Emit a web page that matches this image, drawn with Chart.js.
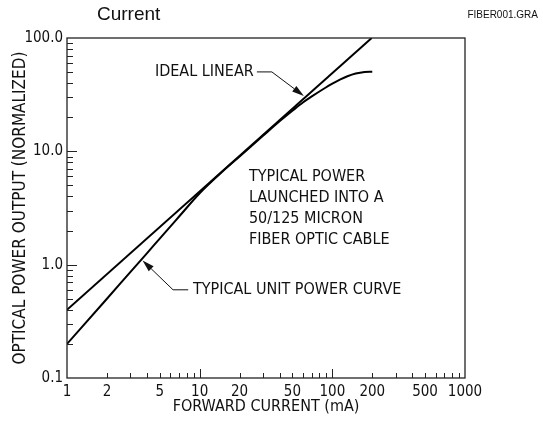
<!DOCTYPE html>
<html>
<head>
<meta charset="utf-8">
<script src="https://cdn.jsdelivr.net/npm/chart.js@4/dist/chart.umd.min.js"></script>
<style>
  html, body { margin: 0; padding: 0; background: #fff; }
  #wrap { width: 543px; height: 422px; position: relative; }
</style>
</head>
<body>
<div id="wrap"><canvas id="fiber"></canvas></div>
<script>
// forward current (mA) vs optical power (normalized)
const idealCurrent = [1, 198];
const idealPower = [0.4, 100];
const unitCurrent = [1, 2, 3, 4, 5, 7, 10, 15, 20, 30, 40, 50, 60, 70, 85, 100, 115, 130, 150, 175, 200];
const unitPower = [0.2, 0.5, 0.86, 1.26, 1.7, 2.66, 4.27, 6.7, 9.0, 13.7, 18.4, 22.8, 27.0, 30.5, 35.3, 39.6, 43.2, 46.0, 48.6, 50.2, 50.5];

const xTickLabels = [1, 2, 5, 10, 20, 50, 100, 200, 500, 1000];
const yTickLabels = [0.1, 1, 10, 100];
const yTickText = ["0.1", "1.0", "10.0", "100.0"];
const xMarks = [2, 3, 4, 5, 6, 7, 8, 9, 10, 20, 30, 40, 50, 60, 70, 80, 90, 100, 200, 300, 400, 500, 600, 700, 800, 900];
const yMarks = [0.2, 0.3, 0.4, 0.5, 0.6, 0.7, 0.8, 0.9, 1, 2, 3, 4, 5, 6, 7, 8, 9, 10, 20, 30, 40, 50, 60, 70, 80, 90];

const FONT = '"Liberation Sans Narrow", "DejaVu Sans Condensed", sans-serif';

const toPoints = (xs, ys) => xs.map((x, i) => ({x: x, y: ys[i]}));

// frame + tick marks pointing into the plot
const frameTicks = {
  id: 'frameTicks',
  afterDraw(chart) {
    let ctx = chart.ctx;
    let a = chart.chartArea;
    let xs = chart.scales.x, ys = chart.scales.y;
    ctx.save();
    ctx.strokeStyle = '#222';
    ctx.lineWidth = 1.3;
    ctx.strokeRect(a.left, a.top, a.right - a.left, a.bottom - a.top);
    ctx.lineWidth = 1;
    ctx.beginPath();
    xMarks.forEach(function(v){
      let px = Math.round(xs.getPixelForValue(v)) + 0.5;
      let len = (v == 10 || v == 100) ? 9 : 5;
      ctx.moveTo(px, a.bottom);
      ctx.lineTo(px, a.bottom - len);
    });
    yMarks.forEach(function(v){
      let py = Math.round(ys.getPixelForValue(v)) + 0.5;
      let len = (v == 1 || v == 10) ? 10 : 6;
      ctx.moveTo(a.left, py);
      ctx.lineTo(a.left + len, py);
    });
    ctx.stroke();
    ctx.restore();
  }
};

// callout texts and arrows, anchored in data units
const callouts = [
  {text: ["IDEAL LINEAR"], x: 4.6, y: 50.2, leader: [[27, 50.2], [35, 50.2], [61, 30.8]]},
  {text: ["TYPICAL UNIT POWER CURVE"], x: 8.9, y: 0.6, leader: [[8.2, 0.6], [6.3, 0.6], [3.71, 1.09]]},
  {text: ["TYPICAL POWER", "LAUNCHED INTO A", "50/125 MICRON", "FIBER OPTIC CABLE"], x: 23.5, y: 5.94, leader: null}
];

const annotate = {
  id: 'annotate',
  afterDraw(chart) {
    let ctx = chart.ctx;
    let xs = chart.scales.x, ys = chart.scales.y;
    ctx.save();
    ctx.fillStyle = '#111';
    ctx.strokeStyle = '#111';
    ctx.font = '16px ' + FONT;
    ctx.textAlign = 'left';
    ctx.textBaseline = 'middle';
    callouts.forEach(function(c){
      let tx = xs.getPixelForValue(c.x), ty = ys.getPixelForValue(c.y);
      c.text.forEach(function(line, i){
        ctx.fillText(line, tx, ty + i * 21);
      });
      if (c.leader) {
        let pts = c.leader.map(p => [xs.getPixelForValue(p[0]), ys.getPixelForValue(p[1])]);
        let n = pts.length;
        let tip = pts[n - 1], prev = pts[n - 2];
        let ang = Math.atan2(tip[1] - prev[1], tip[0] - prev[0]);
        let head = 12, half = 3.5;
        let bx = tip[0] - head * Math.cos(ang), by = tip[1] - head * Math.sin(ang);
        ctx.lineWidth = 1;
        ctx.beginPath();
        ctx.moveTo(pts[0][0], pts[0][1]);
        for (let i = 1; i < n - 1; i++) ctx.lineTo(pts[i][0], pts[i][1]);
        ctx.lineTo(bx, by);
        ctx.stroke();
        ctx.beginPath();
        ctx.moveTo(tip[0], tip[1]);
        ctx.lineTo(bx + half * Math.sin(ang), by - half * Math.cos(ang));
        ctx.lineTo(bx - half * Math.sin(ang), by + half * Math.cos(ang));
        ctx.closePath();
        ctx.fill();
      }
    });
    // page header
    ctx.font = '19px "Liberation Sans", Arial, sans-serif';
    ctx.fillText("Current", 97, 15);
    ctx.font = '10px "Liberation Sans", Arial, sans-serif';
    ctx.textAlign = 'right';
    ctx.fillText("FIBER001.GRA", 538, 15);
    ctx.restore();
  }
};

function createGraph(name) {
  let ctx = document.getElementById(name);
  new Chart(ctx, {
    type: 'line',
    data: {
      datasets: [
        {
          label: 'Ideal linear',
          data: toPoints(idealCurrent, idealPower),
          borderColor: '#000',
          borderWidth: 2,
          pointRadius: 0,
          fill: false
        },
        {
          label: 'Typical unit power curve',
          data: toPoints(unitCurrent, unitPower),
          borderColor: '#000',
          borderWidth: 2,
          pointRadius: 0,
          cubicInterpolationMode: 'monotone',
          fill: false
        }
      ]
    },
    options: {
      responsive: true,
      maintainAspectRatio: false,
      animation: false,
      layout: { padding: { left: 0, top: 38, right: 78, bottom: 0 } },
      plugins: {
        legend: { display: false },
        tooltip: { enabled: false }
      },
      scales: {
        x: {
          type: 'logarithmic',
          min: 1,
          max: 1000,
          afterFit: function(s){ s.height = 44; },
          afterBuildTicks: function(s){ s.ticks = xTickLabels.map(v => ({value: v})); },
          grid: { display: false, drawTicks: false },
          border: { display: false },
          ticks: {
            autoSkip: false,
            maxRotation: 0,
            padding: 5,
            color: '#111',
            font: { family: FONT, size: 15 },
            callback: function(v){ return xTickLabels.includes(v) ? String(v) : ''; }
          },
          title: {
            display: true,
            text: 'FORWARD CURRENT (mA)',
            color: '#111',
            font: { family: FONT, size: 16 },
            padding: { top: 0, bottom: 6 }
          }
        },
        y: {
          type: 'logarithmic',
          min: 0.1,
          max: 100,
          afterFit: function(s){ s.width = 67; },
          afterBuildTicks: function(s){ s.ticks = yTickLabels.map(v => ({value: v})); },
          grid: { display: false, drawTicks: false },
          border: { display: false },
          ticks: {
            autoSkip: false,
            padding: 4,
            color: '#111',
            font: { family: FONT, size: 15 },
            callback: function(v){
              let i = yTickLabels.indexOf(v);
              return i >= 0 ? yTickText[i] : '';
            }
          },
          title: {
            display: true,
            text: 'OPTICAL POWER OUTPUT (NORMALIZED)',
            color: '#111',
            font: { family: FONT, size: 17 },
            padding: { top: 10, bottom: 0 }
          }
        }
      }
    },
    plugins: [frameTicks, annotate]
  });
}

createGraph("fiber");
</script>
</body>
</html>
